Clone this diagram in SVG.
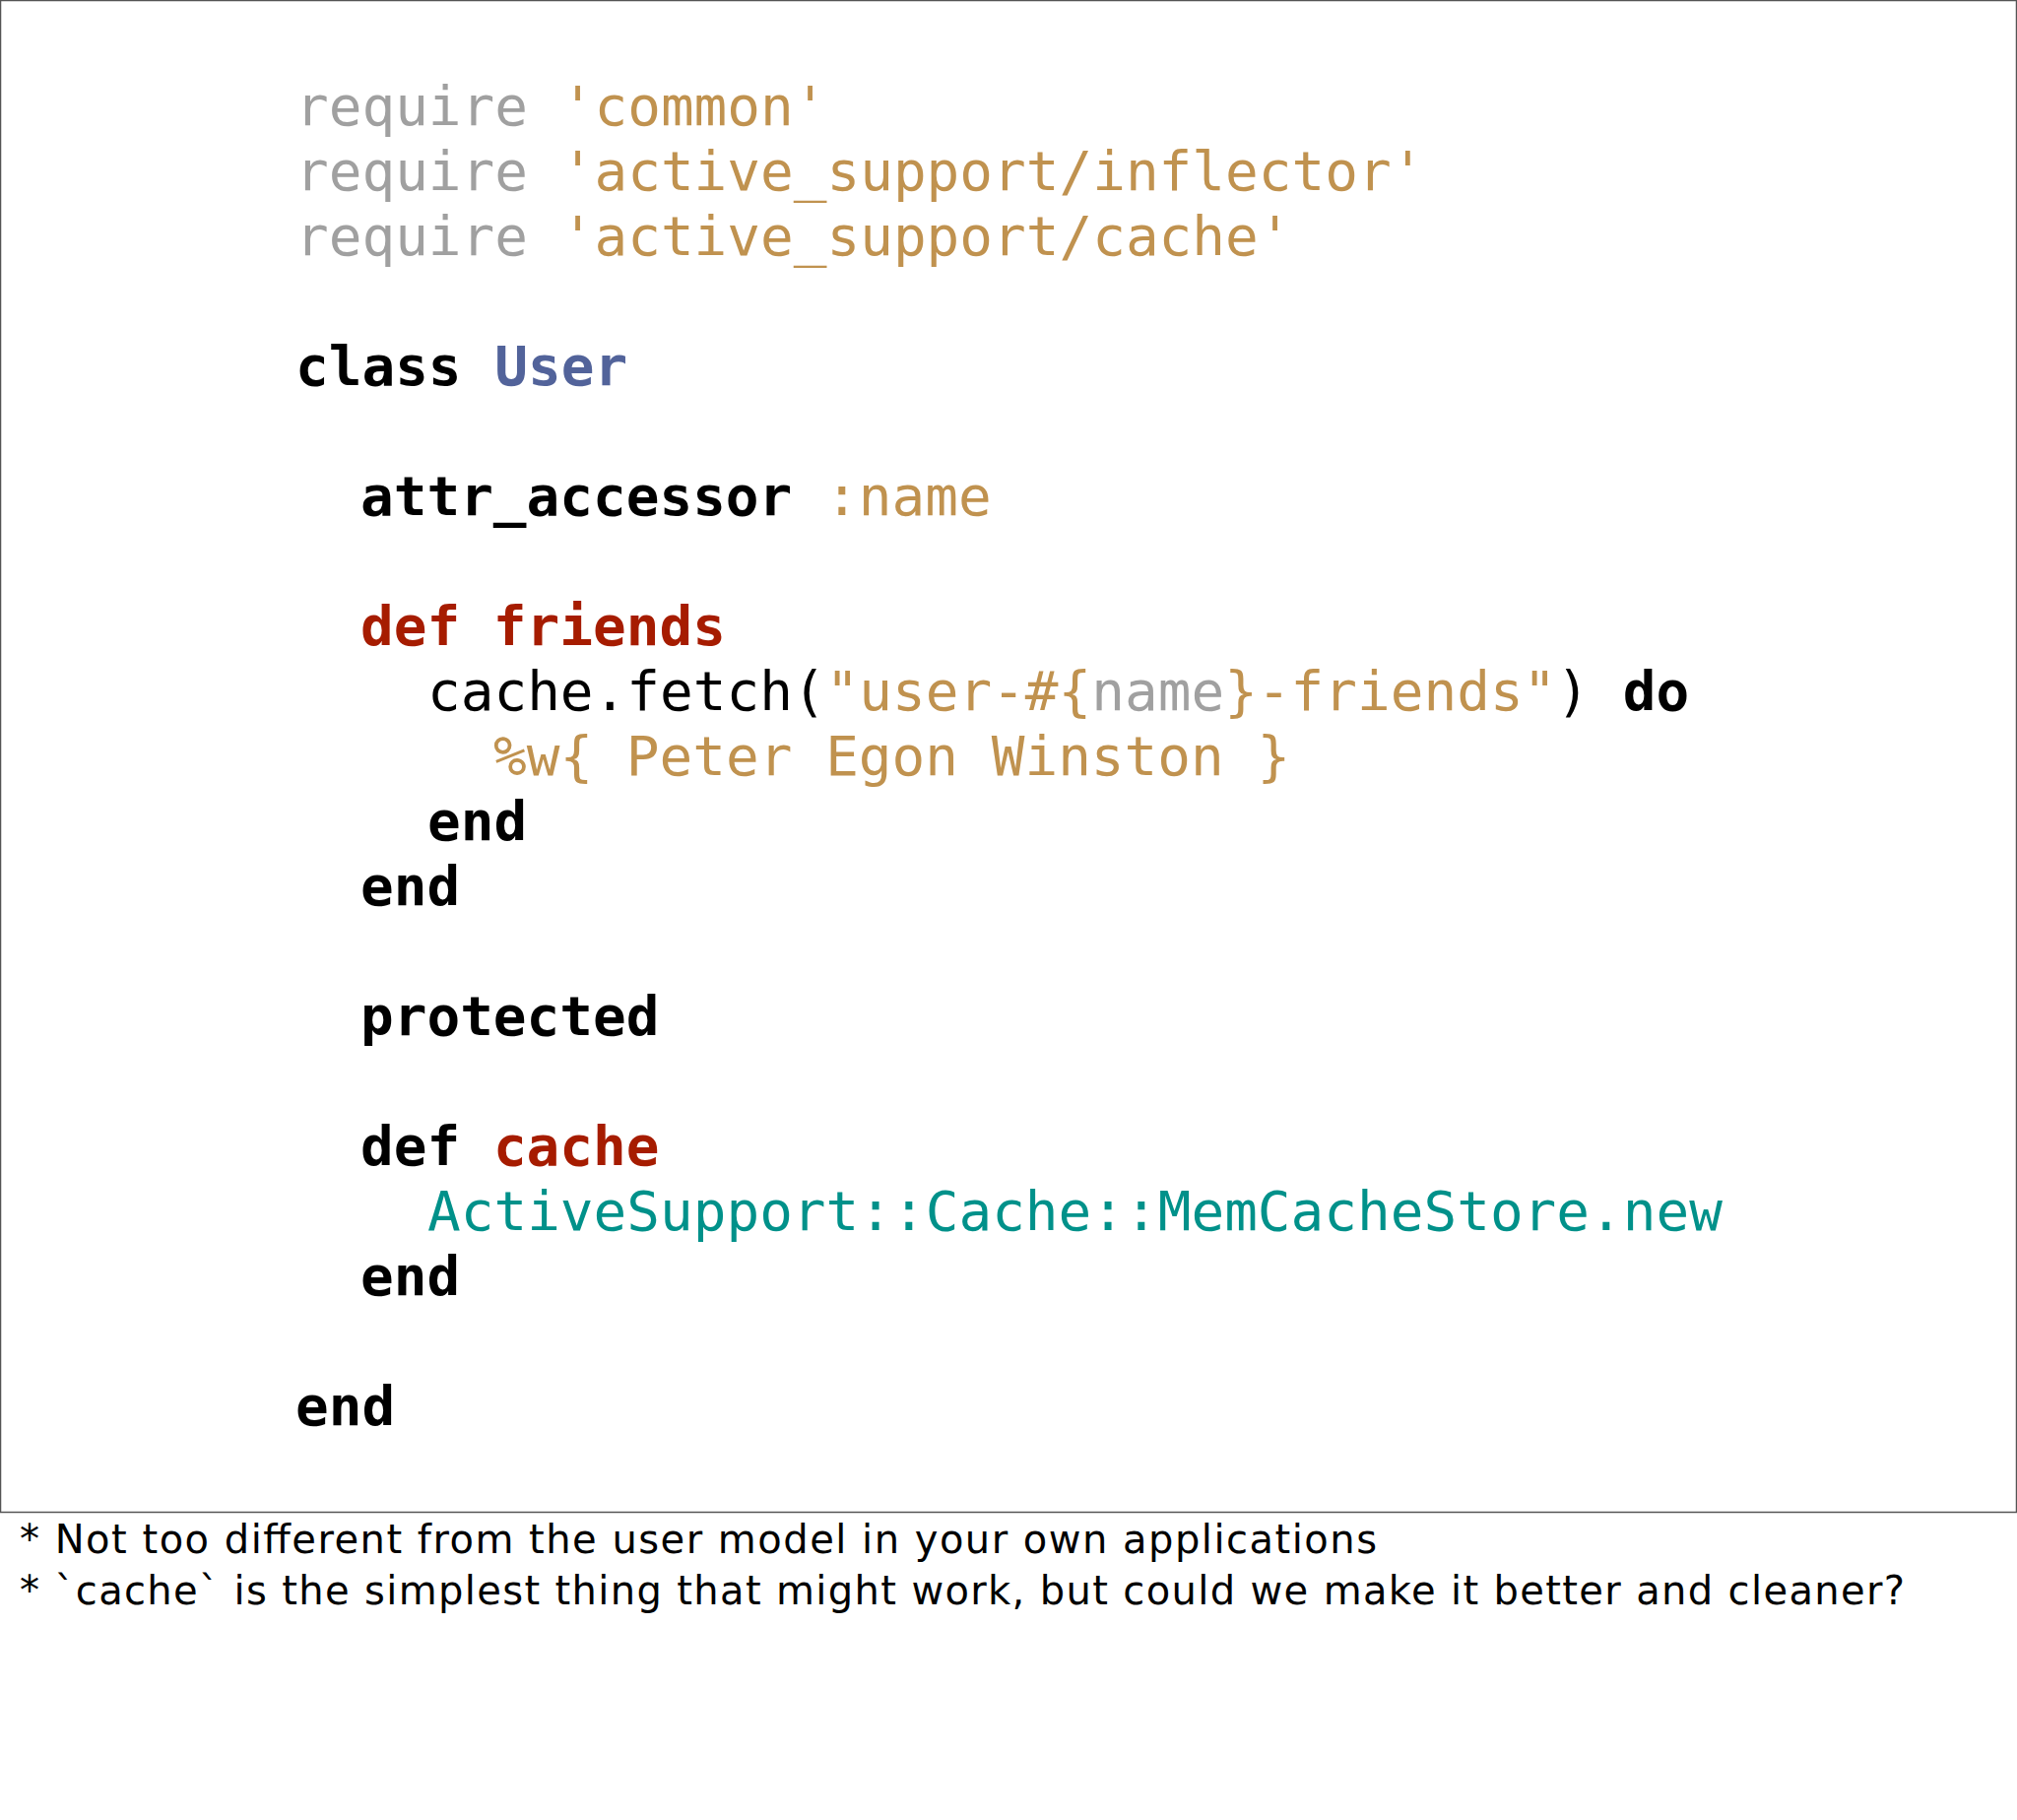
<svg xmlns="http://www.w3.org/2000/svg" width="2048" height="1848" viewBox="0 0 2048 1848">
<style>
.c{font-family:"DejaVu Sans Mono",monospace;font-size:56px;fill:#000}
.b{font-weight:bold}
.g{fill:#a0a0a0}
.s{fill:#c0924f}
.u{fill:#52639a}
.r{fill:#a61c00}
.t{fill:#00918a}
.n{font-family:"DejaVu Sans","Liberation Sans",sans-serif;font-size:40px;fill:#000}
</style>
<rect x="0.5" y="0.5" width="2047" height="1535" fill="#fff" stroke="#555" stroke-width="1.5"/>
<g id="code" xml:space="preserve">
<text class="c" x="300" y="127"><tspan class="g">require</tspan> <tspan class="s">'common'</tspan></text>
<text class="c" x="300" y="193"><tspan class="g">require</tspan> <tspan class="s">'active_support/inflector'</tspan></text>
<text class="c" x="300" y="259"><tspan class="g">require</tspan> <tspan class="s">'active_support/cache'</tspan></text>
<text class="c" x="300" y="391"><tspan class="b">class</tspan> <tspan class="b u">User</tspan></text>
<text class="c" x="366" y="523"><tspan class="b">attr_accessor</tspan> <tspan class="s">:name</tspan></text>
<text class="c b r" x="366" y="655">def friends</text>
<text class="c" x="434" y="721">cache.fetch(<tspan class="s">"user-#{</tspan><tspan class="g">name</tspan><tspan class="s">}-friends"</tspan>) <tspan class="b">do</tspan></text>
<text class="c s" x="501" y="787">%w{ Peter Egon Winston }</text>
<text class="c b" x="434" y="853">end</text>
<text class="c b" x="366" y="919">end</text>
<text class="c b" x="366" y="1051">protected</text>
<text class="c" x="366" y="1183"><tspan class="b">def</tspan> <tspan class="b r">cache</tspan></text>
<text class="c t" x="434" y="1249">ActiveSupport::Cache::MemCacheStore.new</text>
<text class="c b" x="366" y="1315">end</text>
<text class="c b" x="300" y="1447">end</text>
</g>
<g id="notes">
<text class="n" x="20" y="1577" textLength="1378">* Not too different from the user model in your own applications</text>
<text class="n" x="20" y="1629" textLength="1914">* `cache` is the simplest thing that might work, but could we make it better and cleaner?</text>
</g>
</svg>
